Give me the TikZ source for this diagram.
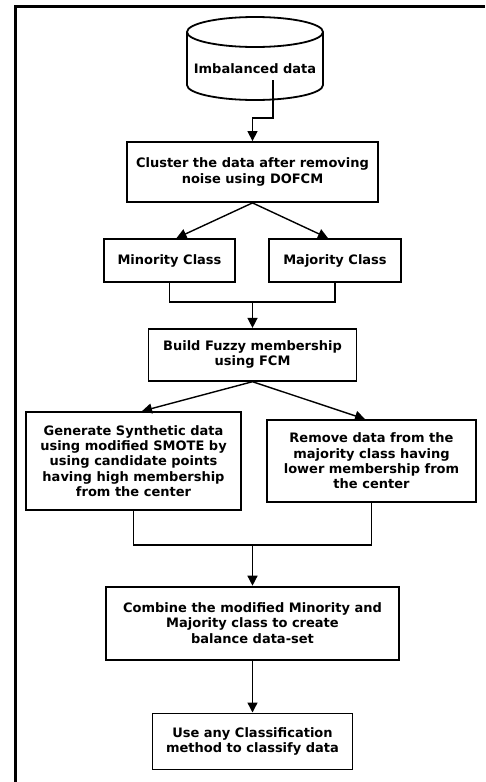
\documentclass[tikz,border=0pt]{standalone}
\usepackage{fontspec}
\setmainfont{DejaVu Sans}
\usetikzlibrary{arrows.meta,positioning}

\begin{document}
\begin{tikzpicture}[x=1pt,y=1pt,->,>={Triangle[length=10pt,width=10pt]},line width=1.4pt,
                    box/.style={rectangle,draw,line width=1.8pt,align=center,inner sep=2pt,
                                font=\bfseries\fontsize{13}{15.3}\selectfont},
                    store/.style={inner sep=0pt,minimum width=136pt,
                                  font=\bfseries\fontsize{13}{15.3}\selectfont},
                    outline/.style={-,line width=1.8pt}]

    \useasboundingbox (0,0) rectangle (485,-782);
    \draw[-,line width=3pt] (15,-782) -- (15,-6) -- (485,-6);

    % data store, outline drawn round the text node
    \node[store] (data) at (255,-69) {Imbalanced data};
    \draw[outline] ([yshift=37pt]data.center) ellipse [x radius=68pt,y radius=15pt];
    \draw[outline] ([shift={(-68,37)}]data.center) -- ([shift={(-68,-16)}]data.center)
        arc [start angle=180,end angle=360,x radius=68pt,y radius=15pt] -- ([shift={(68,37)}]data.center);

    \node[box,minimum width=251pt,minimum height=60pt] (cluster) at (252.5,-172) {Cluster the data after removing\\noise using DOFCM};
    \node[box,minimum width=131pt,minimum height=43pt] (minority) at (169.5,-260.5) {Minority Class};
    \node[box,minimum width=132pt,minimum height=43pt] (majority) at (335,-260.5) {Majority Class};
    \node[box,minimum width=208pt,minimum height=52pt] (fuzzy) [below=125pt of cluster] {Build Fuzzy membership\\using FCM};
    \node[box,minimum width=215pt,minimum height=98pt] (generate) at (133.5,-461) {Generate Synthetic data\\using modified SMOTE by\\using candidate points\\having high membership\\from the center};
    \node[box,minimum width=209pt,minimum height=82pt] (remove) at (371.5,-461) {Remove data from the\\majority class having\\lower membership from\\the center};
    \node[box,minimum width=293pt,minimum height=73pt] (combine) [below=204pt of fuzzy] {Combine the modified Minority and\\Majority class to create\\balance data-set};
    \node[box,minimum width=200pt,minimum height=56pt] (use) [below=52pt of combine] {Use any Classification\\method to classify data};

    \coordinate (mergeA) at (252.5,-302);
    \coordinate (mergeB) at (252.5,-545);

    \draw ([shift={(18,-11)}]data.center) -- ++(0,-38) -| (cluster.north);
    \draw[-] (minority.south) |- (majority.south |- mergeA) -- (majority.south);
    \draw[-] (generate.south) |- (remove.south |- mergeB) -- (remove.south);

    \path (cluster.south) edge ([xshift=7pt]minority.north)
                          edge ([xshift=-7pt]majority.north)
          (mergeA) edge (fuzzy)
          (fuzzy.south) edge ([xshift=8.5pt]generate.north)
                        edge ([xshift=-6.5pt]remove.north)
          (mergeB) edge (combine)
          (combine) edge (use);
\end{tikzpicture}
\end{document}
